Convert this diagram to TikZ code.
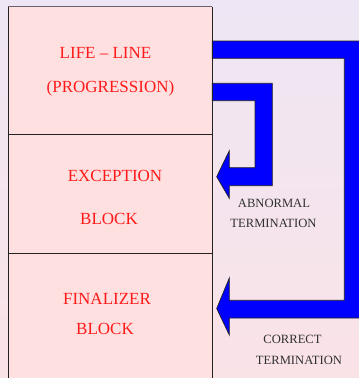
\documentclass[tikz,border=0pt]{standalone}
\usepackage{fontspec}
\setmainfont{Liberation Serif}
\begin{document}
\definecolor{bgtop}{HTML}{EEE6F4}
\definecolor{bgbot}{HTML}{FAE3E7}
\definecolor{boxfill}{HTML}{FFE0E0}
\definecolor{edge}{HTML}{222222}
\definecolor{topedge}{HTML}{6A6070}
\definecolor{labelred}{HTML}{FF1A1A}
\definecolor{notegray}{HTML}{303030}
\definecolor{flow}{HTML}{0000FF}
\begin{tikzpicture}[x=1pt,y=-1pt,
  blocktext/.style={anchor=base,text=labelred,font=\fontsize{17}{20}\selectfont,inner sep=0pt},
  notetext/.style={anchor=base,text=notegray,font=\fontsize{12.6}{15}\selectfont,inner sep=0pt},
  flowfill/.style={fill=flow},
  flowline/.style={draw=edge,line width=0.7pt,line join=miter}]
  % canvas with soft vertical gradient
  \useasboundingbox (0,0) rectangle (359,378);
  \shade[top color=bgtop,bottom color=bgbot] (0,0) rectangle (359,378);

  % the stacked blocks
  \fill[boxfill] (8.3,6.7) rectangle (212.3,380);

  % correct termination: from the life-line round to the finalizer,
  % its outer side runs off the right edge
  \fill[flowfill] (212.3,41) -- (366,41) -- (366,318) -- (229.3,318)
    -- (229.3,335) -- (216.7,308.5) -- (229.3,278) -- (229.3,300.3)
    -- (344.3,300.3) -- (344.3,58.3) -- (212.3,58.3) -- cycle;
  \draw[flowline] (366,41) -- (212.3,41) -- (212.3,58.3) -- (344.3,58.3)
    -- (344.3,300.3) -- (229.3,300.3) -- (229.3,278) -- (216.7,308.5)
    -- (229.3,335) -- (229.3,318) -- (366,318);

  % abnormal termination: from the life-line into the exception block
  \draw[flowfill,flowline] (212.3,83.3) -- (272.3,83.3) -- (272.3,185.7) -- (229.3,185.7)
    -- (229.3,198.3) -- (216.7,176.7) -- (229.3,150.7) -- (229.3,167.7)
    -- (255,167.7) -- (255,100.7) -- (212.3,100.7) -- cycle;

  % block outlines
  \draw[edge,line width=0.9pt] (8.3,380) -- (8.3,6.7);
  \draw[edge,line width=0.9pt] (212.3,6.7) -- (212.3,380);
  \draw[topedge,line width=0.9pt] (8.3,6.7) -- (212.3,6.7);
  \draw[edge,line width=0.7pt] (8.3,134.3) -- (212.3,134.3);
  \draw[edge,line width=0.7pt] (8.3,253.3) -- (212.3,253.3);

  % block labels
  \node[blocktext] (life) at (105.5,58.7) {LIFE – LINE};
  \node[blocktext] (prog) at (110.5,92.4) {(PROGRESSION)};
  \node[blocktext] (exc) at (115,181) {EXCEPTION};
  \node[blocktext] (excb) at (109,224.3) {BLOCK};
  \node[blocktext] (fin) at (107,304) {FINALIZER};
  \node[blocktext] (finb) at (105,334.3) {BLOCK};

  % arrow notes
  \node[notetext] (abn) at (274,207.3) {ABNORMAL};
  \node[notetext] (abnt) at (273.5,227.7) {TERMINATION};
  \node[notetext] (cor) at (292.5,343.3) {CORRECT};
  \node[notetext] (cort) at (299,364) {TERMINATION};
\end{tikzpicture}
\end{document}
